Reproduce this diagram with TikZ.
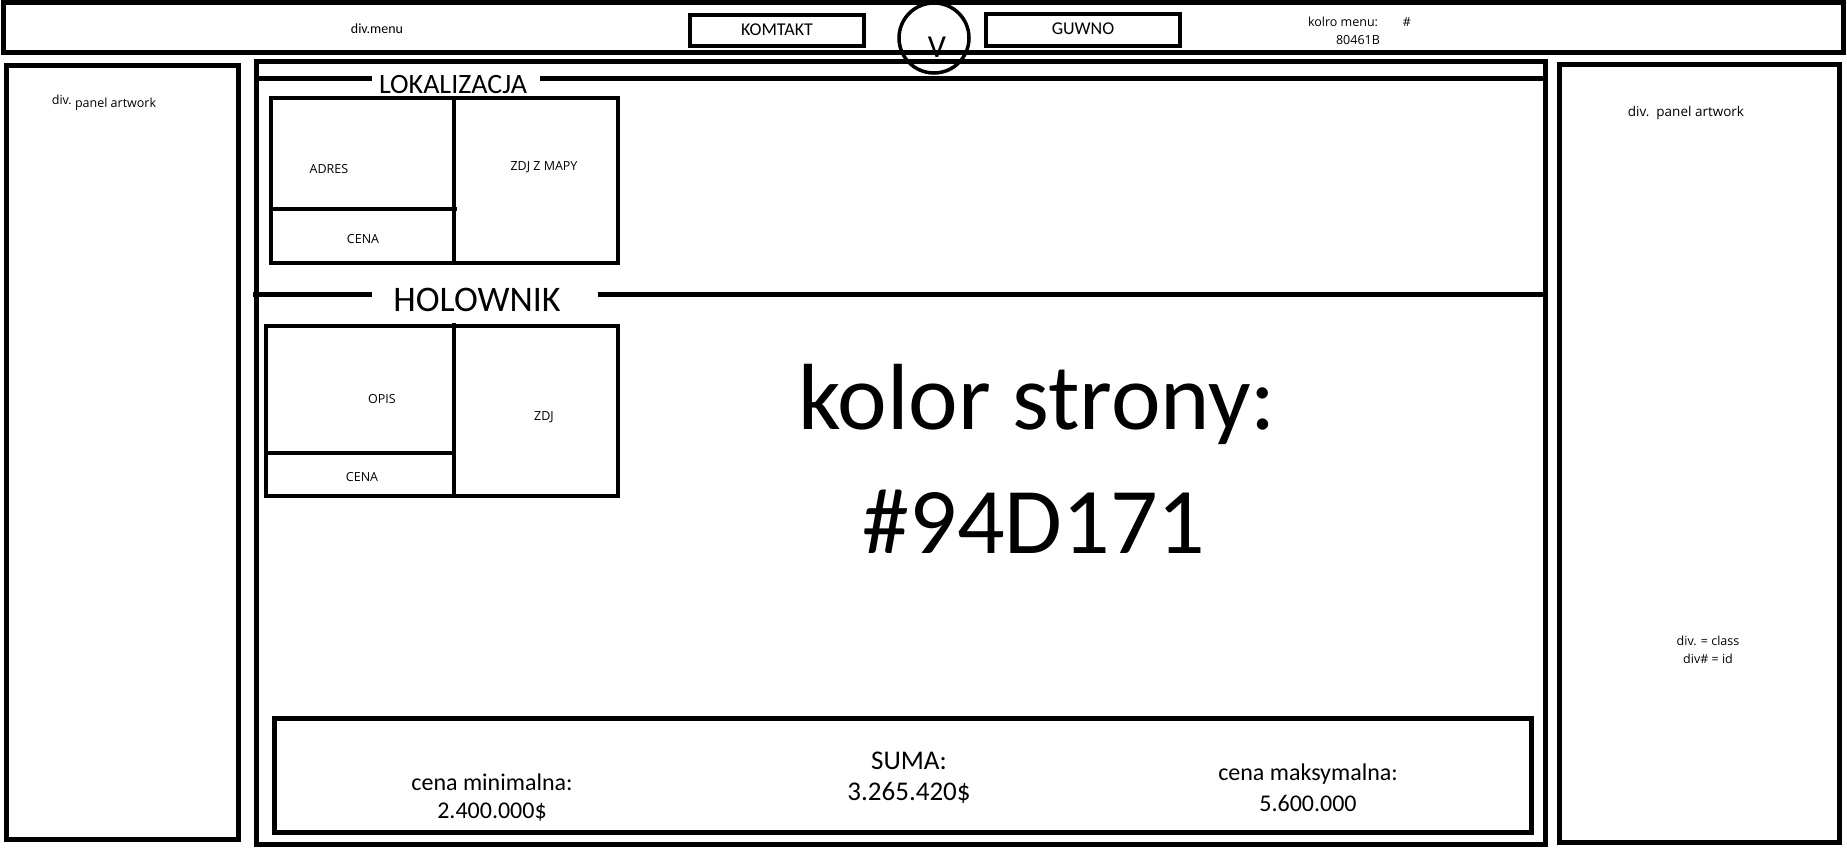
\documentclass[tikz,border=0pt]{standalone}
\usepackage{fontspec}
\setmainfont{Carlito}
\newfontfamily\uifont{Open Sans}
\newcommand\setfs[1]{\fontsize{#1}{#1}\selectfont}
\begin{document}
\begin{tikzpicture}[x=1pt,y=-1pt,
  frame/.style={draw=black,line width=5pt},
  inner/.style={draw=black,line width=4.5pt},
  lbl/.style={inner sep=0pt,anchor=center},
  small/.style={lbl,font=\uifont\setfs{12.5}},
  cal/.style={lbl,font=\setfs{#1}}]
\useasboundingbox[fill=white] (0,0) rectangle (1847,848);
% menu bar
\draw[frame] (3.5,3) rectangle (1843,52.5);
\draw[inner] (690,15) rectangle (864,46);
\draw[inner] (986,14) rectangle (1180,46);
\draw[line width=3.5pt] (934,38) circle (35);
\node[cal=14] (menu) at (377,29) {div.menu};
\node[cal=18] (kontakt) at (777,29.5) {KOMTAKT};
\node[cal=18] (guwno) at (1083,29) {GUWNO};
\node[cal=32] (vv) at (937,47) {V};
\node[small] (kolro) at (1343,22) {kolro menu:};
\node[small] (hash) at (1407,22) {\#};
\node[small] (kolrohex) at (1358,40) {80461B};
% left panel
\draw[frame] (6,66) rectangle (238,839);
\node[small] (lpanel) at (104,103) {\raisebox{3pt}{div.} panel artwork};
% right panel
\draw[frame] (1559,65) rectangle (1839,842);
\node[small,font=\uifont\setfs{13.5}] (rpanel) at (1686,113) {div.\hspace{7pt}panel artwork};
\node[small,align=center,font=\uifont\fontsize{12.5}{17.5}\selectfont] (legend) at (1708,650) {div. = class\\div\# = id};
% central
\draw[frame] (256,61.5) rectangle (1545,844);
\node[cal=28] (lok) at (453,85) {LOKALIZACJA};
\draw[frame] (256,79) -- (372,79);
\draw[frame] (540,79) -- (1545,79);
\draw[inner] (271,98) rectangle (618,263);
\draw[inner] (454,98) -- (454,263);
\draw[inner] (271,209) -- (457,209);
\node[small] (adres) at (329,169) {ADRES};
\node[small] (mapa) at (544,167) {ZDJ Z MAPY};
\node[small] (cena1) at (363,239) {CENA};
\node[cal=36] (hol) at (477,300) {HOLOWNIK};
\draw[frame] (253,294) -- (372,294);
\draw[frame] (598,294) -- (1545,294);
\draw[inner] (266,326) rectangle (618,496);
\draw[inner] (454,323) -- (454,496);
\draw[inner] (266,453) -- (454,453);
\node[small] (opis) at (382,399) {OPIS};
\node[small] (zdj) at (544,417) {ZDJ};
\node[small] (cena2) at (362,477) {CENA};
\node[cal=94] (kolor) at (1037,404) {kolor strony:};
\node[cal=94] (hex) at (1034,522) {\#94D171};
% bottom box
\draw[frame] (274,718) rectangle (1531,832);
\node[cal=24] (cmin) at (492,782) {cena minimalna:};
\node[cal=24] (cminv) at (492,812) {2.400.000\$};
\node[cal=27] (suma) at (909,761) {SUMA:};
\node[cal=27] (sumav) at (909,793) {3.265.420\$};
\node[cal=24] (cmax) at (1308,774) {cena maksymalna:};
\node[cal=24] (cmaxv) at (1308,803) {5.600.000};
\end{tikzpicture}
\end{document}
